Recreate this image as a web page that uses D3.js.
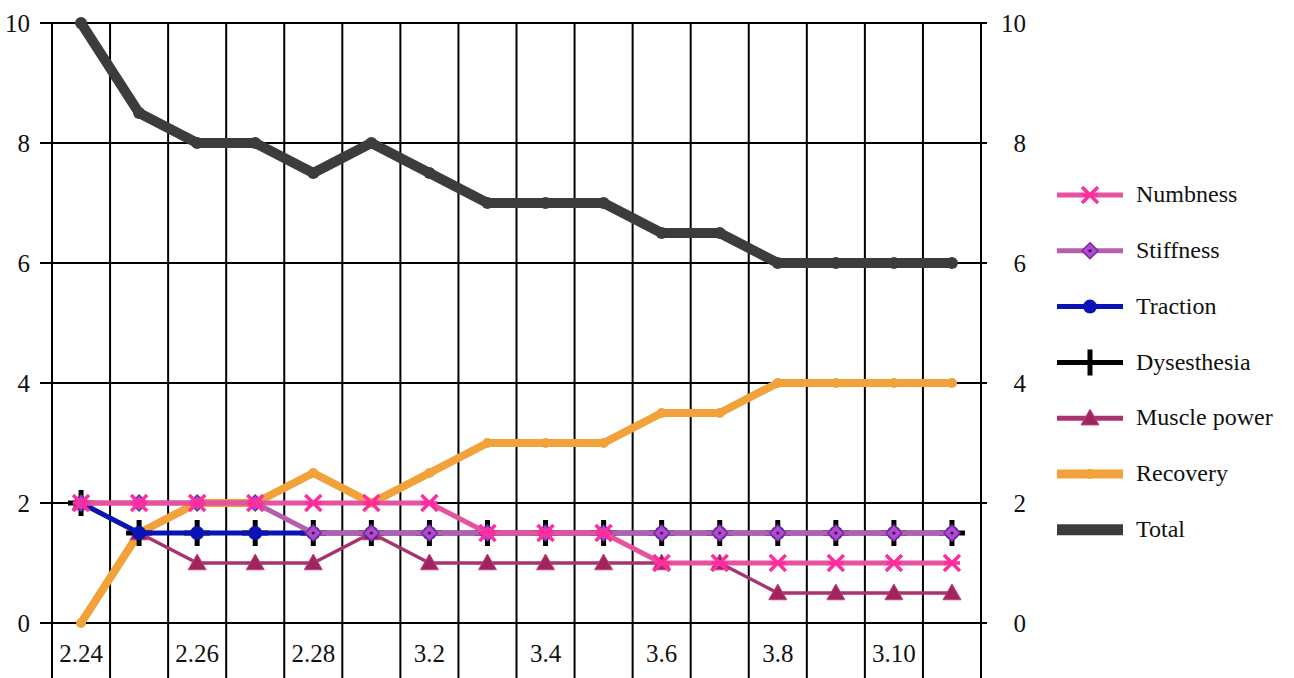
<html>
<head>
<meta charset="UTF-8"/>
<script src="https://d3js.org/d3.v7.min.js"></script>
<title>symptom scores</title>
<style>
body { margin: 0; background: #fff; }
</style>
</head>
<body>
<svg id='big' width=1294 height=678></svg>
<script>
'use strict';

// dates (month.day)
var categories = ['2.24','2.25','2.26','2.27','2.28','3.1','3.2','3.3',
	'3.4','3.5','3.6','3.7','3.8','3.9','3.10','3.11'];
var xLabels = ['2.24','2.26','2.28','3.2','3.4','3.6','3.8','3.10'];
var yTicks = [0, 2, 4, 6, 8, 10];

var numbness    = [2, 2, 2, 2, 2, 2, 2, 1.5, 1.5, 1.5, 1, 1, 1, 1, 1, 1];
var stiffness   = [2, 2, 2, 2, 1.5, 1.5, 1.5, 1.5, 1.5, 1.5, 1.5, 1.5, 1.5, 1.5, 1.5, 1.5];
var traction    = [2, 1.5, 1.5, 1.5, 1.5, 1.5, 1.5, 1.5, 1.5, 1.5, 1.5, 1.5, 1.5, 1.5, 1.5, 1.5];
var dysesthesia = [2, 1.5, 1.5, 1.5, 1.5, 1.5, 1.5, 1.5, 1.5, 1.5, 1.5, 1.5, 1.5, 1.5, 1.5, 1.5];
var musclePower = [2, 1.5, 1, 1, 1, 1.5, 1, 1, 1, 1, 1, 1, 0.5, 0.5, 0.5, 0.5];
var recovery    = [0, 1.5, 2, 2, 2.5, 2, 2.5, 3, 3, 3, 3.5, 3.5, 4, 4, 4, 4];
var total       = [10, 8.5, 8, 8, 7.5, 8, 7.5, 7, 7, 7, 6.5, 6.5, 6, 6, 6, 6];

var legendNames = ['Numbness','Stiffness','Traction','Dysesthesia','Muscle power','Recovery','Total'];

var FONT = "'Liberation Serif', 'DejaVu Serif', 'Times New Roman', serif";

var svg = d3.select('#big');
var sx = d3.scaleBand().domain(categories).range([52, 981]);
var sy = d3.scaleLinear().domain([0, 10]).range([623, 23]);
function cx(c){ return sx(c) + sx.bandwidth()/2; }

// grid
svg.selectAll('.rowline')
	.data(yTicks)
	.enter()
	.append('line')
	.attr('class', 'rowline')
	.attr('x1', 40)
	.attr('x2', 987)
	.attr('y1', function(d){ return sy(d); })
	.attr('y2', function(d){ return sy(d); })
	.attr('stroke', '#000')
	.attr('stroke-width', 2);

var edges = categories.map(function(c){ return sx(c); });
edges.push(sx.range()[1]);
svg.selectAll('.columnline')
	.data(edges)
	.enter()
	.append('line')
	.attr('class', 'columnline')
	.attr('x1', function(d){ return d; })
	.attr('x2', function(d){ return d; })
	.attr('y1', sy(10))
	.attr('y2', 678)
	.attr('stroke', '#000')
	.attr('stroke-width', 2);

// axes (text only)
var yLeft = d3.axisLeft(sy).tickValues(yTicks).tickSize(0).tickPadding(10);
var gl = svg.append('g').attr('transform', 'translate(40,0)').call(yLeft);
var yRight = d3.axisLeft(sy).tickValues(yTicks).tickSize(0).tickPadding(0);
var gr = svg.append('g').attr('transform', 'translate(1026,0)').call(yRight);
var xAxis = d3.axisBottom(sx).tickValues(xLabels).tickSize(0).tickPadding(0);
var gx = svg.append('g').attr('transform', 'translate(0,644)').call(xAxis);
[gl, gr, gx].forEach(function(g){
	g.select('.domain').remove();
	g.attr('font-family', null).attr('font-size', null);
	g.selectAll('text')
		.style('font-family', FONT)
		.style('font-size', '25px')
		.attr('fill', '#111');
});
gl.selectAll('text').attr('dy', '0.34em');
gr.selectAll('text').attr('dy', '0.34em');
gx.selectAll('text').attr('dy', '0.72em');

// marker drawers
function mkX(g, x, y, s){
	g.append('path')
		.attr('d', 'M' + (x-s) + ',' + (y-s) + 'L' + (x+s) + ',' + (y+s) +
			'M' + (x-s) + ',' + (y+s) + 'L' + (x+s) + ',' + (y-s) +
			'M' + (x-s) + ',' + y + 'L' + (x+s) + ',' + y)
		.attr('stroke', '#ff2d9e').attr('stroke-width', 3.5).attr('fill', 'none');
}
function mkDiamond(g, x, y, s){
	g.append('path')
		.attr('d', 'M' + x + ',' + (y-s) + 'L' + (x+s) + ',' + y + 'L' + x + ',' + (y+s) + 'L' + (x-s) + ',' + y + 'Z')
		.attr('fill', '#b24ad0').attr('stroke', '#7a2a9a').attr('stroke-width', 1.5);
	g.append('circle').attr('cx', x).attr('cy', y).attr('r', 1.6).attr('fill', '#3a1060');
}
function mkCircle(color, r){
	return function(g, x, y){
		g.append('circle').attr('cx', x).attr('cy', y).attr('r', r).attr('fill', color);
	};
}
function mkPlus(g, x, y, s){
	g.append('path')
		.attr('d', 'M' + x + ',' + (y-s) + 'L' + x + ',' + (y+s) + 'M' + (x-s) + ',' + y + 'L' + (x+s) + ',' + y)
		.attr('stroke', '#000').attr('stroke-width', 5).attr('fill', 'none');
}
function mkTriangle(g, x, y, s){
	g.append('path')
		.attr('d', 'M' + x + ',' + (y-s) + 'L' + (x+s) + ',' + (y+s*0.75) + 'L' + (x-s) + ',' + (y+s*0.75) + 'Z')
		.attr('fill', '#a0245e').attr('stroke', '#c04080').attr('stroke-width', 1);
}

var series = {
	'Numbness':     { values: numbness,    color: '#e6529e', width: 5,   marker: function(g,x,y){ mkX(g,x,y,8); } },
	'Stiffness':    { values: stiffness,   color: '#b45fae', width: 5,   marker: function(g,x,y){ mkDiamond(g,x,y,8); } },
	'Traction':     { values: traction,    color: '#0a14b4', width: 5,   marker: mkCircle('#0a14b4', 7) },
	'Dysesthesia':  { values: dysesthesia, color: '#000',    width: 4,   marker: function(g,x,y){ mkPlus(g,x,y,13); } },
	'Muscle power': { values: musclePower, color: '#a8336e', width: 3.5, marker: function(g,x,y){ mkTriangle(g,x,y,9); } },
	'Recovery':     { values: recovery,    color: '#f2a23a', width: 8,   marker: mkCircle('#f2a23a', 5) },
	'Total':        { values: total,       color: '#3c3c3c', width: 10,  marker: mkCircle('#3c3c3c', 6) }
};

// bottom to top
var drawOrder = ['Total','Recovery','Muscle power','Dysesthesia','Traction','Stiffness','Numbness'];

var line = d3.line()
	.x(function(d){ return cx(d.c); })
	.y(function(d){ return sy(d.v); });

drawOrder.forEach(function(name){
	var s = series[name];
	var pts = categories.map(function(c, i){ return {c: c, v: s.values[i]}; });
	var g = svg.append('g').attr('class', 'series');
	g.append('path')
		.datum(pts)
		.attr('d', line)
		.attr('fill', 'none')
		.attr('stroke', s.color)
		.attr('stroke-width', s.width)
		.attr('stroke-linejoin', 'round');
	pts.forEach(function(p){ s.marker(g, cx(p.c), sy(p.v)); });
});

// legend
var lg = svg.append('g').attr('class', 'legend');
legendNames.forEach(function(name, i){
	var s = series[name];
	var y = 195 + i * 55.8;
	var row = lg.append('g');
	row.append('line')
		.attr('x1', 1057).attr('x2', 1123)
		.attr('y1', y).attr('y2', y)
		.attr('stroke', s.color)
		.attr('stroke-width', name == 'Total' ? 11 : (name == 'Recovery' ? 9 : Math.max(s.width, 5)));
	if(name != 'Total') s.marker(row, 1090, y);
	row.append('text')
		.attr('x', 1136)
		.attr('y', y)
		.attr('dy', '0.3em')
		.style('font-family', FONT)
		.style('font-size', '24px')
		.attr('fill', '#111')
		.text(name);
});
</script>
</body>
</html>
